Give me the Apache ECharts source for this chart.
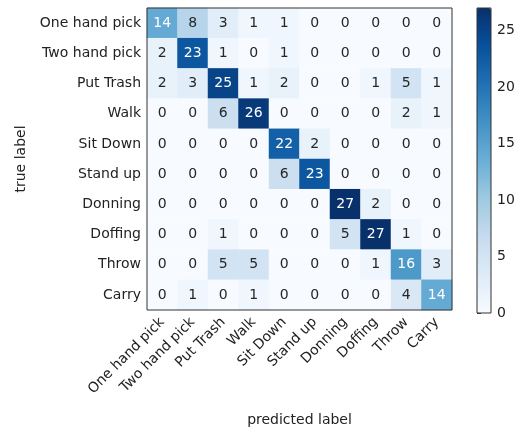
<!DOCTYPE html>
<html>
<head>
<meta charset="utf-8">
<script src="https://cdn.jsdelivr.net/npm/echarts@6/dist/echarts.min.js"></script>
<style>
  html, body { margin: 0; padding: 0; background: #fff; }
  #chart { width: 529px; height: 432px; }
</style>
</head>
<body>
<div id="chart"></div>
<script>
// 类别
var labels = ['One hand pick', 'Two hand pick', 'Put Trash', 'Walk', 'Sit Down',
  'Stand up', 'Donning', 'Doffing', 'Throw', 'Carry'];
// 混淆矩阵 (行: true label, 列: predicted label)
var matrix = [
  [14, 8, 3, 1, 1, 0, 0, 0, 0, 0],
  [2, 23, 1, 0, 1, 0, 0, 0, 0, 0],
  [2, 3, 25, 1, 2, 0, 0, 1, 5, 1],
  [0, 0, 6, 26, 0, 0, 0, 0, 2, 1],
  [0, 0, 0, 0, 22, 2, 0, 0, 0, 0],
  [0, 0, 0, 0, 6, 23, 0, 0, 0, 0],
  [0, 0, 0, 0, 0, 0, 27, 2, 0, 0],
  [0, 0, 1, 0, 0, 0, 5, 27, 1, 0],
  [0, 0, 5, 5, 0, 0, 0, 1, 16, 3],
  [0, 1, 0, 1, 0, 0, 0, 0, 4, 14]
];
// 色条刻度
var barTicks = [0, 5, 10, 15, 20, 25];
var vmax = 27;

var font = 'DejaVu Sans';
var blues = ['#f7fbff', '#deebf7', '#c6dbef', '#9ecae1', '#6baed6', '#4292c6', '#2171b5', '#08519c', '#08306b'];

// 转换数据
var cells = [];
matrix.forEach(function (row, r) {
  row.forEach(function (v, c) {
    cells.push({
      value: [c, r, v],
      label: { color: v > vmax / 2 ? '#ffffff' : '#262626' }
    });
  });
});

var myChart = echarts.init(document.getElementById('chart'), null, { renderer: 'canvas' });
var option = {
  animation: false,
  textStyle: { fontFamily: font },
  grid: [
    { left: 147, top: 8, width: 305, height: 305, show: true, z: 3,
      backgroundColor: 'rgba(0,0,0,0)', borderColor: '#333', borderWidth: 1 },
    { left: 477, top: 8, width: 14, height: 305, show: true, z: 10,
      backgroundColor: 'rgba(0,0,0,0)', borderColor: '#333', borderWidth: 1 }
  ],
  xAxis: [{
    gridIndex: 0,
    type: 'category',
    data: labels,
    name: 'predicted label',
    nameLocation: 'middle',
    nameGap: 103,
    nameTextStyle: { fontSize: 14, color: '#222', fontFamily: font },
    axisLine: { show: false },
    axisTick: { alignWithLabel: true, length: 4, lineStyle: { color: '#333' } },
    axisLabel: { rotate: 45, fontSize: 14, color: '#222', margin: 10, fontFamily: font, interval: 0 },
    splitLine: { show: false }
  }, {
    gridIndex: 1,
    type: 'value',
    show: false
  }],
  yAxis: [{
    gridIndex: 0,
    type: 'category',
    data: labels,
    inverse: true,
    name: 'true label',
    nameLocation: 'middle',
    nameGap: 119,
    nameRotate: 90,
    nameTextStyle: { fontSize: 14, color: '#222', fontFamily: font },
    axisLine: { show: false },
    axisTick: { alignWithLabel: true, length: 4, lineStyle: { color: '#333' } },
    axisLabel: { fontSize: 14, color: '#222', margin: 6, fontFamily: font, interval: 0 },
    splitLine: { show: false }
  }, {
    gridIndex: 1,
    type: 'value',
    position: 'right',
    min: 0,
    max: vmax,
    interval: 5,
    axisLine: { show: false },
    axisTick: { show: true, length: 4, lineStyle: { color: '#333' } },
    axisLabel: {
      fontSize: 14, color: '#222', margin: 6, fontFamily: font,
      formatter: function (v) { return barTicks.indexOf(v) >= 0 ? v : ''; }
    },
    splitLine: { show: false }
  }],
  visualMap: {
    type: 'continuous',
    min: 0,
    max: vmax,
    calculable: false,
    seriesIndex: 0,
    inRange: { color: blues },
    left: 477,
    top: 8,
    itemWidth: 14,
    itemHeight: 305,
    text: ['', ''],
    showLabel: false,
    padding: 0
  },
  series: [{
    type: 'heatmap',
    xAxisIndex: 0,
    yAxisIndex: 0,
    data: cells,
    label: { show: true, fontSize: 14, fontFamily: font },
    itemStyle: { borderWidth: 0 }
  }]
};
myChart.setOption(option);
</script>
</body>
</html>
